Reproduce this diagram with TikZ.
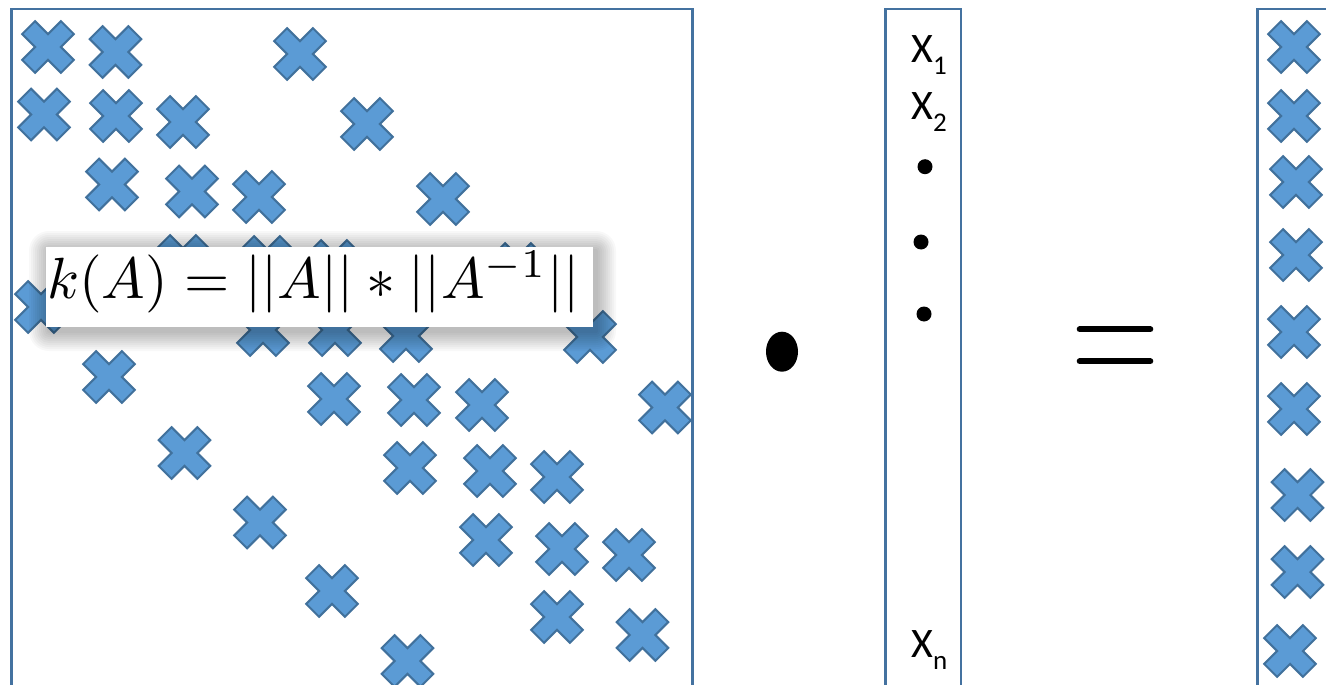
\documentclass[tikz,border=0pt]{standalone}
\usepackage{fontspec}
\usepackage{graphicx}
\newfontfamily\calib{Carlito}
\definecolor{xfill}{RGB}{91,155,213}
\definecolor{xline}{RGB}{65,113,156}
\definecolor{boxline}{RGB}{68,114,160}
\tikzset{
  xmark/.pic={\filldraw[fill=xfill, draw=xline, line width=2, line join=miter]
    (0,12.9) -- (12.9,25.8) -- (25.8,12.9) -- (12.9,0) -- (25.8,-12.9) -- (12.9,-25.8)
    -- (0,-12.9) -- (-12.9,-25.8) -- (-25.8,-12.9) -- (-12.9,0) -- (-25.8,12.9) -- (-12.9,25.8) -- cycle;},
  framebox/.style={draw=boxline, line width=2.5, anchor=north west, inner sep=0},
  vlabel/.style={anchor=base west, inner sep=0, font=\calib\fontsize{42}{44}\selectfont},
  vdot/.style={fill=black}
}
\newcommand\subsc[1]{\raisebox{-12pt}{\fontsize{27}{28}\selectfont #1}}
\begin{document}
\begin{tikzpicture}[x=1pt,y=-1pt]
\useasboundingbox (0,0) rectangle (1326,685);
\clip (0,0) rectangle (1326,685);
\fill[white] (0,0) rectangle (1326,685);
% boxes
\node[framebox, minimum width=681, minimum height=720] (mat) at (10,8) {};
\node[framebox, minimum width=75.5, minimum height=720] (vec) at (884,8) {};
\node[framebox, minimum width=200, minimum height=720] (res) at (1256,8) {};
% crosses of the matrix
\foreach \x/\y in {48/47, 115.5/52, 300/54,
  44/114.5, 116/116, 183/122, 367/124,
  112/184.5, 192/191.5, 259/197, 443/199,
  183/261, 267/262, 334/266, 518/269, 41/307,
  263/330, 335/330, 406/336, 590/337,
  109/377, 334/399, 414/400, 482/405, 665/407.5,
  184.5/453, 410/468, 490/471, 557/477,
  260/522.5, 486/540, 562/549, 629/555,
  332/591, 557/617, 642.5/635,
  407.5/661}
  \pic at (\x,\y) {xmark};
% crosses of the result
\foreach \x/\y in {1294/47, 1294/116, 1296/182, 1296/255, 1294/332, 1294/409, 1297.5/495, 1297.5/572, 1290/651}
  \pic at (\x,\y) {xmark};
% shadow of formula box
\foreach \i in {1,...,10}
  \fill[black, opacity=0.028, rounded corners={2*\i}] ({46+3-2*\i},{247+4-2*\i}) rectangle ({593+3+2*\i},{327+4+2*\i});
\node[fill=white, minimum width=547, minimum height=80, inner sep=0] (fbox) at (319.5,287) {};
\node[anchor=base west, inner sep=0] (formula) at (47,298.5) {\resizebox{532pt}{!}{$k(A) = ||A|| * ||A^{-1}||$}};
% vector
\node[vlabel] (x1) at (911,63) {X\subsc{1}};
\node[vlabel] (x2) at (911,120) {X\subsc{2}};
\node[vlabel] (xn) at (911,657) {X\subsc{n}};
\fill[vdot] (925,166.7) circle (7.5);
\fill[vdot] (921,242) circle (7.5);
\fill[vdot] (924,314) circle (7.5);
% product bullet and equals
\fill (782,351.7) ellipse (16 and 20);
\coordinate (e1a) at (1079.7,329.3); \coordinate (e1b) at (1150.3,329.3);
\coordinate (e2a) at (1079.7,361.3); \coordinate (e2b) at (1150.3,361.3);
\draw[line width=6, line cap=round] (e1a) -- (e1b);
\draw[line width=6, line cap=round] (e2a) -- (e2b);
\end{tikzpicture}
\end{document}
